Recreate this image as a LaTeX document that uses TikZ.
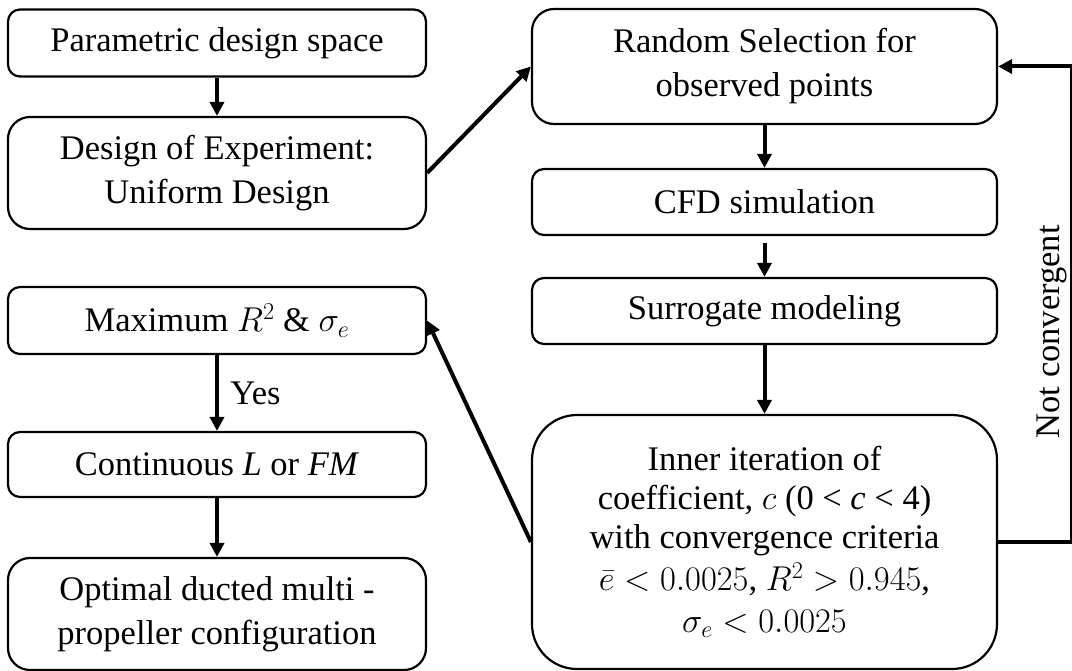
\RequirePackage{fix-cm}
\documentclass[tikz,border=0pt]{standalone}
\usepackage{fontspec}
\setmainfont{Liberation Serif}
\usetikzlibrary{arrows.meta}

\tikzset{
  stage/.style={draw, line width=2.2pt, rounded corners=12pt, align=center,
    minimum width=418pt, minimum height=67pt, inner sep=0pt,
    font=\fontsize{34.5}{39}\selectfont},
  tallstage/.style={stage, rounded corners=22pt, minimum height=112pt,
    font=\fontsize{34.5}{44}\selectfont},
  loopstage/.style={stage, minimum width=465pt},
  flow/.style={line width=4pt, -{Triangle[length=14pt,width=14pt]}},
  flowtext/.style={font=\fontsize{34.5}{39}\selectfont}
}

\begin{document}
\begin{tikzpicture}[x=1pt,y=-1pt]
\useasboundingbox (0,0) rectangle (1072,671);

%Left column
\node[stage] (space) at (217,43){Parametric design space};
\node[tallstage] (doe) at (217,173){Design of Experiment:\\Uniform Design};
\node[stage] (maxfit) at (217,320.5){Maximum $R^2$ \& $\sigma_e$};
\node[stage, minimum height=65pt] (cont) at (217,464.5){Continuous \textit{L} or \textit{FM}};
\node[tallstage] (optim) at (217,614){Optimal ducted multi -\\propeller configuration};

%Right column
\node[loopstage, rounded corners=22pt, minimum height=115pt,
  font=\fontsize{34.5}{44}\selectfont] (select) at (764.5,66.5){Random Selection for\\observed points};
\node[loopstage, minimum height=66pt] (cfd) at (764.5,202){CFD simulation};
\node[loopstage, minimum height=66pt] (surr) at (764.5,311){Surrogate modeling};
\node[loopstage, rounded corners=45pt, minimum height=254pt] (inner) at (764.5,542){Inner iteration of\\coefficient, $c$ (0 < \textit{c} < 4)\\with convergence criteria\\[3pt]$\bar{e} < 0.0025$, $R^2 > 0.945$,\\[3pt]$\sigma_e < 0.0025$};

%Connectors
\draw[flow] (space) -- (doe);
\draw[flow] (doe.east) -- (select.west);
\draw[flow] (select) -- (cfd);
\draw[flow, shorten <=7pt] (cfd) -- (surr);
\draw[flow] (surr) -- (inner);
\draw[flow] (inner.west) -- (maxfit.east);
\draw[flow] (maxfit) -- node[right=8pt, flowtext]{Yes} (cont);
\draw[flow] (cont) -- (optim);

%Feedback loop
\draw[flow] (inner.east) -- ++(74,0) |- (select.east)
  node[pos=0.221, above, rotate=90, flowtext]{Not convergent};

\end{tikzpicture}
\end{document}
